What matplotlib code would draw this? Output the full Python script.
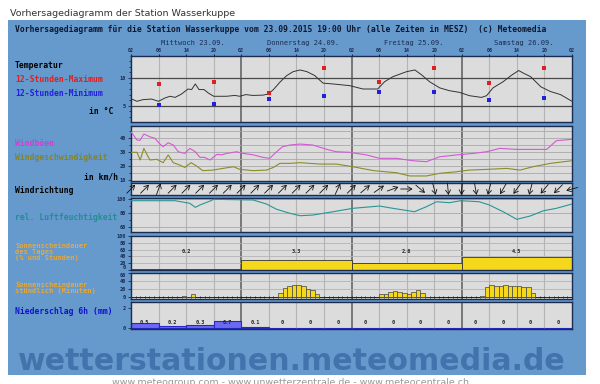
import numpy as np
import matplotlib
matplotlib.use("Agg")
import matplotlib.pyplot as plt
from matplotlib.patches import Rectangle
from matplotlib.transforms import blended_transform_factory, offset_copy

# Zeitachse: Stunden ab Mittwoch 23.09. 02:00 (0..96)
tage = ['Mittwoch 23.09.', 'Donnerstag 24.09.', 'Freitag 25.09.', 'Samstag 26.09.']
stunden_labels = ['02', '08', '14', '20'] * 4 + ['02']

# Temperatur
temp_h = [0, 1.3, 2.6, 4.5, 6, 7.4, 8.5, 9.6, 11, 12.4, 13.2, 14, 14.8, 15.9, 16.8,
          18, 20.8, 22.6, 23.7, 25, 26.5, 28.7, 29.9, 31, 32.4, 33.9, 35.3, 36.8, 38.3, 40,
          41.8, 44, 47.6, 50.5, 53.7, 55.2, 57, 60, 61.8, 63.3, 65, 67.2, 69.3, 71.5, 73.7,
          76.3, 77.4, 78.8, 81, 82.9, 84.4, 85.5, 87, 89.2, 91.3, 93.5, 96]
temp = [6.25, 5.8, 6.1, 6.2, 5.8, 6.4, 6.7, 6.5, 7.1, 8.0, 7.9, 8.9, 7.9, 7.9, 7.3,
        6.7, 6.7, 6.85, 6.7, 7.0, 6.85, 6.9, 7.1, 7.9, 9.2, 10.4, 11.1, 11.4, 11.1, 10.4,
        9.05, 8.9, 8.6, 8.0, 8.0, 9.3, 10.2, 11.1, 11.4, 10.5, 9.3, 8.2, 7.7, 7.4, 6.8,
        6.5, 6.8, 8.2, 9.3, 10.5, 11.3, 10.8, 10.2, 8.4, 7.55, 7.0, 5.8]
mm_h = [6, 18, 30, 42, 54, 66, 78, 90]
t_max = [8.9, 9.3, 7.25, 11.7, 9.3, 11.7, 9.15, 11.7]
t_min = [5.2, 5.35, 6.2, 6.7, 7.55, 7.55, 5.95, 6.4]

# Wind (km/h)
gust_h = [0, 1.3, 2, 2.8, 4.1, 5.2, 6.3, 7, 8.1, 9.2, 10.3, 11.7, 12.8, 14, 15, 16, 17.2,
          18.7, 19.7, 20.8, 23, 24.4, 26.6, 28.7, 30.2, 31.7, 33, 34.6, 36.8, 39.6, 42.6,
          44.7, 47.6, 51.3, 54.1, 57.8, 61.3, 64.3, 67.2, 70.8, 74.5, 77.4, 80.3, 84, 87.5,
          90.5, 92.6, 96]
gust = [44.5, 38.6, 38.4, 42.9, 40.9, 39.8, 35.7, 33.8, 36.6, 35, 30.2, 29, 32.6, 30.2,
        26.2, 26.2, 24.3, 28.3, 28, 29, 30.2, 29, 28, 26.2, 25.5, 30.2, 33.8, 35, 35.7, 35,
        31.9, 30.2, 29.8, 27.9, 25.5, 25.5, 23.8, 23.1, 26.6, 27.9, 29, 30.2, 32.6, 31.9,
        31.9, 31.9, 38.1, 39.1]
speed_h = [0, 1.3, 2, 2.8, 4.1, 5.6, 7, 8.1, 9.2, 10.6, 11.7, 13.1, 14.5, 15.6, 17.8, 20,
           22.3, 23.7, 26.6, 29.5, 31, 32.4, 34.6, 36.8, 41.1, 44.7, 48.3, 52.8, 57.8, 60.7,
           64.3, 67.2, 70.8, 73.6, 77.4, 81.8, 84.7, 87.5, 91.3, 96]
speed = [29.8, 29.8, 24.3, 32.6, 24.3, 24.8, 22.4, 27.9, 22.4, 20.7, 19, 22.4, 19.5, 16.7,
         17.1, 18.3, 19.5, 17.6, 16.7, 17.1, 19, 21.9, 21.9, 22.4, 21.4, 21.4, 19.5, 16.7,
         15.2, 12.9, 12.9, 14.8, 15.9, 17.1, 17.6, 18.3, 17.1, 19.5, 21.9, 23.8]

# Windrichtung alle 3 Stunden (Grad, woher)
dir_h = list(range(0, 97, 3))
dir_from = [225, 225, 200, 225, 225, 225, 225, 225, 225, 225, 225, 225, 225,
            225, 225, 205, 225, 230, 235, 250, 270, 310, 345, 355, 5, 350, 15, 30, 35,
            15, 40, 45, 75]

# relative Feuchte (%)
rh_h = [0, 9.6, 12.8, 14, 15, 17.2, 18, 26.6, 29.5, 31.7, 34.6, 36.8, 39.6, 44, 48.3,
        54.1, 57, 61.7, 64.3, 66.5, 69.3, 71.8, 75.8, 78, 81, 84, 86.9, 89.8, 92.6, 96]
rh = [98, 98, 94.2, 88.4, 91.8, 97.5, 100, 99, 93.2, 85.6, 79.8, 76.3, 77.3, 82.1, 87,
      90.3, 87, 82.1, 89.3, 96.5, 95.1, 98, 96.5, 91.8, 82.1, 71.1, 75.9, 83.5, 87, 93.2]

# Sonnenschein
sun_day_start = [0, 24, 48, 72]
sun_day_pct = [1.5, 28, 21, 37]
sun_day_txt = ['0.2', '3.3', '2.6', '4.5']
sun_h = [11, 12, 13, 32, 33, 34, 35, 36, 37, 38, 39, 40, 54, 55, 56, 57, 58, 59, 60, 61,
         62, 63, 64, 76, 77, 78, 79, 80, 81, 82, 83, 84, 85, 86, 87]
sun_min = [3, 1, 7, 9, 22, 28, 31, 30, 27, 20, 17, 7, 7, 8, 12, 15, 13, 11, 7, 13,
           17, 9, 1, 2, 26, 29, 28, 27, 29, 27, 28, 27, 25, 24, 9]

# Niederschlag 6h (mm)
rr_h = list(range(0, 96, 6))
rr = [0.5, 0.2, 0.3, 0.7, 0.1, 0, 0, 0, 0, 0, 0, 0, 0, 0, 0, 0]

W, H = 600, 384
X0, X1 = 131, 572
NAVY = '#1c2c50'
MONO = 'DejaVu Sans Mono'
GELB = '#f5d81c'
ORANGE = '#e8a838'

plt.rcParams['font.family'] = [MONO]

fig = plt.figure(figsize=(6, 3.84), dpi=100)
fig.patch.set_facecolor('white')
fig.add_artist(Rectangle((8 / W, 1 - 375 / H), 578 / W, 355 / H, transform=fig.transFigure,
                         facecolor='#6699cc', edgecolor='none', zorder=0))


def achse(top, bottom):
    ax = fig.add_axes([X0 / W, 1 - bottom / H, (X1 - X0) / W, (bottom - top) / H])
    ax.set_facecolor('#dcdcdc')
    ax.set_xlim(0, 96)
    ax.set_xticks([])
    for s in ax.spines.values():
        s.set_color(NAVY)
        s.set_linewidth(1)
    for h in range(6, 96, 6):
        if h % 24 == 0:
            ax.axvline(h, color='#5c5c5c', lw=1.1, zorder=1)
        else:
            ax.axvline(h, color='#b4b4b4', lw=0.8, zorder=1)
    ax.tick_params(axis='y', which='both', direction='out', color=NAVY, labelcolor=NAVY,
                   labelsize=3.8, pad=1, width=0.6)
    ax.tick_params(axis='y', which='major', length=2.5)
    ax.tick_params(axis='y', which='minor', length=1.5)
    return ax


def links(y, s, color, x=15, ha='left', size=5.8, spacing=1.2):
    fig.text(x / W, 1 - y / H, s, color=color, fontsize=size, fontweight='bold',
             ha=ha, va='center', family=MONO, linespacing=spacing)


# Titel
fig.text(10 / W, 1 - 14 / H, 'Vorhersagediagramm der Station Wasserkuppe', fontsize=6.8,
         color='#333333', family='DejaVu Sans', va='center')
fig.text(15 / W, 1 - 29 / H,
         'Vorhersagediagramm für die Station Wasserkuppe vom 23.09.2015 19:00 Uhr '
         '(alle Zeiten in MESZ)  (c) Meteomedia',
         fontsize=5.8, fontweight='bold', color='#0c1832', va='center', family=MONO)

# Temperatur
ax_t = achse(56, 122)
ax_t.set_ylim(2.1, 13.9)
ax_t.set_yticks([5, 10])
ax_t.set_yticks(range(3, 14), minor=True)
for v in (5, 10):
    ax_t.axhline(v, color='#4a4a4a', lw=0.9, zorder=1)
ax_t.plot(temp_h, temp, color='#333333', lw=0.7, zorder=3)
ax_t.plot(mm_h, t_max, 's', color='#e02020', ms=2.3, mew=0, zorder=4)
ax_t.plot(mm_h, t_min, 's', color='#2020dd', ms=2.3, mew=0, zorder=4)
ax_t.xaxis.set_ticks_position('top')
ax_t.set_xticks(range(0, 97, 6))
ax_t.set_xticklabels(stunden_labels)
ax_t.tick_params(axis='x', labelsize=3.6, pad=0.8, length=1.5, color=NAVY, labelcolor=NAVY)
for lab in ax_t.get_xticklabels():
    lab.set_fontweight('bold')
tr = blended_transform_factory(ax_t.transData, fig.transFigure)
for i, name in enumerate(tage):
    ax_t.text(i * 24 + 13.5, 1 - 43 / H, name, transform=tr, ha='center', va='center',
              fontsize=5, color=NAVY)

links(66, 'Temperatur', '#000000')
links(80, '12-Stunden-Maximum', '#e02020')
links(93, '12-Stunden-Minimum', '#2020dd')
links(112, 'in °C', '#000000', x=113, ha='right')

# Wind
ax_w = achse(126, 181)
ax_w.set_ylim(9.3, 48.6)
ax_w.set_yticks([10, 20, 30, 40])
ax_w.set_yticks([15, 25, 35, 45], minor=True)
for v in range(15, 50, 5):
    ax_w.axhline(v, color='#a8a8a8', lw=0.6, zorder=1)
ax_w.plot(gust_h, gust, color='#d25ad2', lw=0.8, zorder=3)
ax_w.plot(speed_h, speed, color='#8c8c28', lw=0.8, zorder=3)
links(144, 'Windböen', '#d040d0')
links(157, 'Windgeschwindigkeit', '#858520')
links(177, 'in km/h', '#000000', x=118, ha='right')

# Windrichtung
ax_d = achse(183, 195)
ax_d.set_ylim(0, 1)
ax_d.set_yticks([])
L = 4.3
for h, d in zip(dir_h, dir_from):
    t = np.deg2rad(d + 180)
    dx, dy = L * np.sin(t), L * np.cos(t)
    ax_d.annotate('', xy=(h, 0.5), xycoords=offset_copy(ax_d.transData, fig=fig, x=dx, y=dy, units='points'),
                  xytext=(h, 0.5), textcoords=offset_copy(ax_d.transData, fig=fig, x=-dx, y=-dy, units='points'),
                  arrowprops=dict(arrowstyle='->,head_length=0.3,head_width=0.18', lw=0.6,
                                  color='#111111', shrinkA=0, shrinkB=0),
                  annotation_clip=False, zorder=4)
links(190, 'Windrichtung', '#000000')

# Feuchte
ax_r = achse(198, 232)
ax_r.set_ylim(52.8, 101.9)
ax_r.set_yticks([60, 80, 100])
ax_r.set_yticks([70, 90], minor=True)
for v in (60, 80, 100):
    ax_r.axhline(v, color='#a8a8a8', lw=0.6, zorder=1)
ax_r.plot(rh_h, rh, color='#2a9595', lw=0.8, zorder=3)
links(217, 'rel. Luftfeuchtigkeit', '#1f8f8f')

# Sonnenschein Tag
ax_s = achse(236, 270)
ax_s.set_ylim(0, 100)
ax_s.set_yticks(range(0, 101, 20))
for v in range(20, 100, 20):
    ax_s.axhline(v, color='#b4b4b4', lw=0.6, zorder=1)
ax_s.bar(sun_day_start, sun_day_pct, width=24, align='edge', color=GELB,
         edgecolor='#333333', lw=0.6, zorder=2)
for h, s in zip(sun_day_start, sun_day_txt):
    ax_s.text(h + 12, 53, s, ha='center', va='center', fontsize=3.8, color='#222222',
              fontweight='bold', zorder=4)
links(252, 'Sonnenscheindauer\ndes Tages\n(% und Stunden)', ORANGE, size=5.0, spacing=1.0)

# Sonnenschein stuendlich
ax_h = achse(273, 299)
ax_h.set_ylim(-5, 60)
ax_h.set_yticks([0, 20, 40, 60])
for v in (20, 40):
    ax_h.axhline(v, color='#b4b4b4', lw=0.6, zorder=1)
ax_h.plot(range(0, 97), [0] * 97, marker='|', ms=2, mew=0.6, color='#222222', lw=0.7, zorder=2)
ax_h.bar(sun_h, sun_min, width=1, align='edge', color=GELB, edgecolor='#444444',
         lw=0.5, zorder=3)
links(288, 'Sonnenscheindauer\nstündlich (Minuten)', ORANGE, size=5.0, spacing=1.0)

# Niederschlag
ax_p = achse(302, 329)
ax_p.set_ylim(-0.1, 2.6)
ax_p.set_yticks([0, 2])
ax_p.bar(rr_h, rr, width=6, align='edge', color='#6a6af5', edgecolor='#2828c8', lw=0.8, zorder=2)
for h, v in zip(rr_h, rr):
    ax_p.text(h + 3, 0.6, '0' if v == 0 else '%.1f' % v, ha='center', va='center',
              fontsize=3.8, color='#222222', fontweight='bold', zorder=4)
links(312, 'Niederschlag 6h (mm)', '#1010d0')

for ax in (ax_t, ax_w, ax_r, ax_s, ax_h, ax_p):
    for lab in ax.get_yticklabels():
        lab.set_fontweight('bold')
# die "0" des Tagespanels und die "60" des Stundenpanels stossen aneinander
ax_s.get_yticklabels()[0].set_verticalalignment('bottom')
ax_h.get_yticklabels()[-1].set_verticalalignment('top')

# Wasserzeichen und Fusszeile
fig.text(18 / W, 1 - 370 / H, 'wetterstationen.meteomedia.de', fontsize=21.6, fontweight='bold',
         family='DejaVu Sans', color='#4273ad', va='baseline', ha='left')
fig.text(290 / W, 1 - 378 / H, 'www.meteogroup.com - www.unwetterzentrale.de - www.meteocentrale.ch',
         fontsize=6.8, color='#999999', family='DejaVu Sans', ha='center', va='top')

fig.savefig('out.png', dpi=100)
